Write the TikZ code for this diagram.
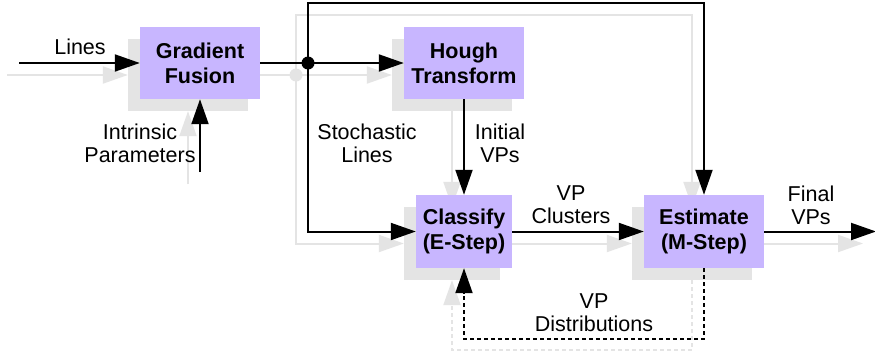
\documentclass[tikz,border=0pt]{standalone}
\usepackage{fontspec}
\setmainfont{Liberation Sans}
\usetikzlibrary{arrows.meta}
\definecolor{boxpurple}{RGB}{200,182,255}
\definecolor{shadowgray}{RGB}{228,228,228}
\definecolor{shadowline}{RGB}{228,228,228}
\begin{document}
\begin{tikzpicture}[x=1pt,y=-1pt,
  box/.style={rectangle, fill=boxpurple, inner sep=0pt, align=center,
    font=\fontsize{21.5}{25}\selectfont\bfseries},
  sbox/.style={rectangle, fill=shadowgray, inner sep=0pt},
  lbl/.style={align=center, inner sep=0pt, font=\fontsize{21.5}{23}\selectfont},
  arr/.style={line width=2pt, -{Triangle[length=25pt,width=17pt]}},
  sarr/.style={line width=2pt, draw=shadowline, -{Triangle[length=25pt,width=17pt]}},
  dashline/.style={dash pattern=on 4pt off 3pt},
  dot/.style={circle, fill=black, inner sep=0pt, minimum size=13pt},
  sdot/.style={circle, fill=shadowline, inner sep=0pt, minimum size=13pt}
]
\useasboundingbox[fill=white] (0,0) rectangle (875,351);

% ---------- shadow layer ----------
\node[sbox, minimum width=120pt, minimum height=72pt] (sgf) at (188,75) {};
\node[sbox, minimum width=120pt, minimum height=72pt] (sht) at (452,75) {};
\node[sbox, minimum width=96pt, minimum height=73pt] (scl) at (452,243.5) {};
\node[sbox, minimum width=120pt, minimum height=73pt] (ses) at (692,243.5) {};

\coordinate (sinL) at (7,75);
\coordinate (sinP) at (188,184);
\coordinate (sj) at (296,75);
\coordinate (str) at (692,15);
\coordinate (sout) at (863,243.5);
\coordinate (sdb) at (692,350);

\draw[sarr] (sinL) -- (sgf.west);
\draw[sarr] (sinP) -- (sgf.south);
\draw[sarr] (sgf.east) -- (sj) -- (sht.west);
\draw[sarr] (sj) |- (str) -- (ses.north);
\draw[sarr] (sj) |- (scl.west);
\draw[sarr] (sht.south) -- (scl.north);
\draw[sarr] (scl.east) -- (ses.west);
\draw[sarr] (ses.east) -- (sout);
\draw[sarr, dashline] (ses.south) -- (sdb) -| (scl.south);
\node[sdot] (sjdot) at (sj) {};

% ---------- main layer ----------
\coordinate (inL) at (19,63);
\coordinate (inP) at (200,172);
\coordinate (j) at (308,63);
\coordinate (tr) at (704,3);
\coordinate (out) at (876,231.5);
\coordinate (db) at (704,339);

\node[box, minimum width=120pt, minimum height=72pt] (gf) at (200,63) {Gradient\\Fusion};
\node[box, minimum width=120pt, minimum height=72pt] (ht) at (464,63) {Hough\\Transform};
\node[box, minimum width=96pt, minimum height=73pt] (cl) at (464,231.5) {Classify\\(E-Step)};
\node[box, minimum width=120pt, minimum height=73pt] (es) at (704,231.5) {Estimate\\(M-Step)};

\draw[arr] (inL) -- (gf.west);
\draw[arr] (inP) -- (gf.south);
\draw[arr] (gf.east) -- (j) -- (ht.west);
\draw[arr] (j) |- (tr) -- (es.north);
\draw[arr] (j) |- (cl.west);
\draw[arr] (ht.south) -- (cl.north);
\draw[arr] (cl.east) -- (es.west);
\draw[arr] (es.east) -- (out);
\draw[arr, dashline] (es.south) -- (db) -| (cl.south);
\node[dot] (jdot) at (j) {};

% ---------- labels ----------
\node[lbl] (lLines) at (80,47) {Lines};
\node[lbl] (lIntr) at (140,143) {Intrinsic\\Parameters};
\node[lbl] (lStoch) at (367,143) {Stochastic\\Lines};
\node[lbl] (lInit) at (500,143) {Initial\\VPs};
\node[lbl] (lClus) at (571,205) {VP\\Clusters};
\node[lbl] (lFinal) at (811,205) {Final\\VPs};
\node[lbl] (lDist) at (594,313) {VP\\Distributions};
\end{tikzpicture}
\end{document}
